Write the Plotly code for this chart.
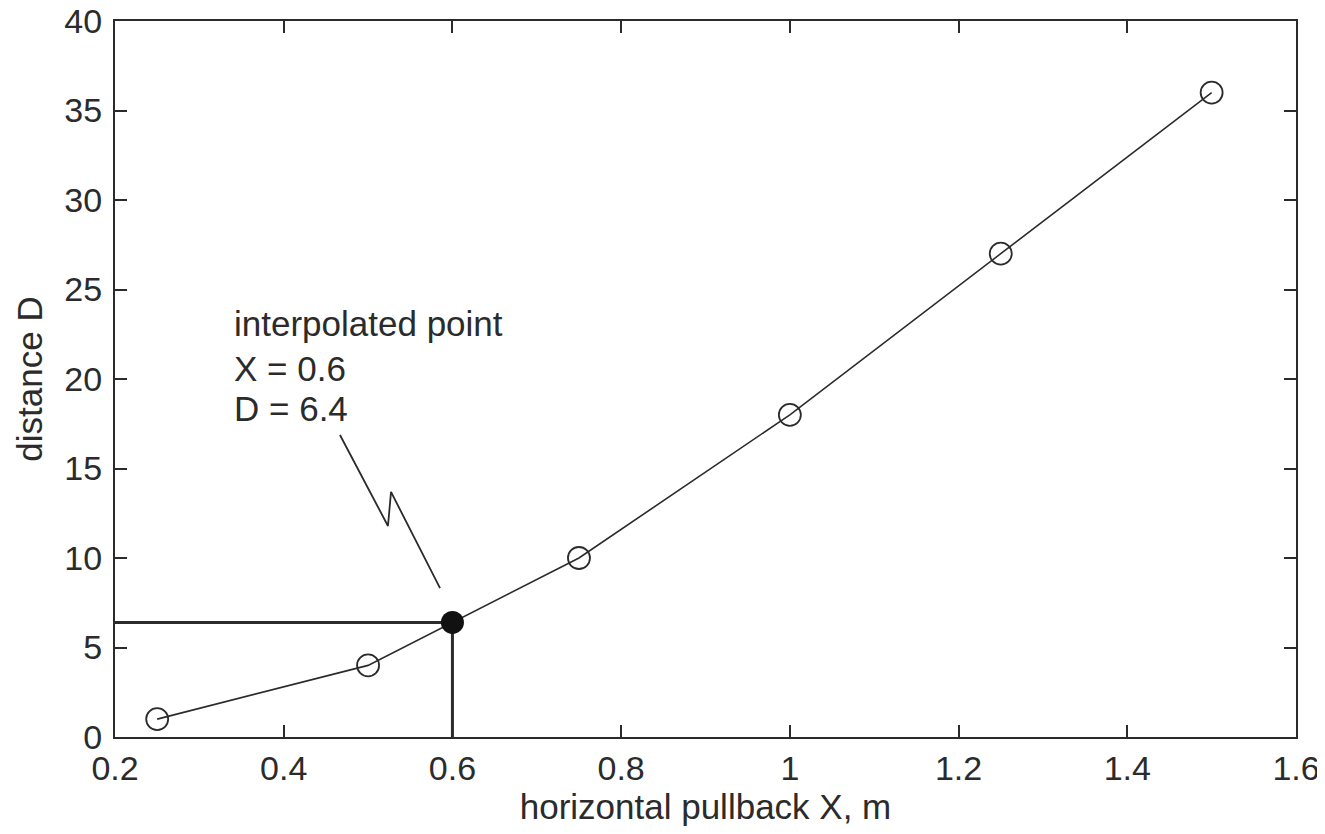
import plotly.graph_objects as go

# Data
pullback_x = [0.25, 0.5, 0.75, 1.0, 1.25, 1.5]
distance_d = [1, 4, 10, 18, 27, 36]

interp_x = 0.6
interp_d = 6.4

# Zig-zag pointer line (data coordinates)
pointer_x = [0.4667, 0.5236, 0.5272, 0.5853]
pointer_y = [16.87, 11.79, 13.69, 8.32]

label_lines = ["interpolated point", "X = 0.6", "D = 6.4"]
label_y = [23.1, 20.6, 18.35]
label_x = 0.3387

x_ticks = [0.2, 0.4, 0.6, 0.8, 1.0, 1.2, 1.4, 1.6]
x_ticktext = ["0.2", "0.4", "0.6", "0.8", "1", "1.2", "1.4", "1.6"]
y_ticks = [0, 5, 10, 15, 20, 25, 30, 35, 40]

INK = "#2b2b2b"
FONT = "Liberation Sans, Arial, Helvetica, sans-serif"

fig = go.Figure()

# reference lines to the interpolated point
fig.add_trace(go.Scatter(
    x=[0.2, interp_x, interp_x], y=[interp_d, interp_d, 0],
    mode="lines", line=dict(color=INK, width=3), hoverinfo="skip", showlegend=False))

# main curve
fig.add_trace(go.Scatter(
    x=pullback_x, y=distance_d, mode="lines+markers",
    line=dict(color=INK, width=1.6),
    marker=dict(symbol="circle-open", size=22, color=INK, line=dict(width=1.8)),
    showlegend=False))

# pointer
fig.add_trace(go.Scatter(
    x=pointer_x, y=pointer_y, mode="lines",
    line=dict(color=INK, width=1.8), hoverinfo="skip", showlegend=False))

# interpolated point
fig.add_trace(go.Scatter(
    x=[interp_x], y=[interp_d], mode="markers",
    marker=dict(symbol="circle", size=23, color="#111111"),
    showlegend=False))

for txt, yy in zip(label_lines, label_y):
    fig.add_annotation(x=label_x, y=yy, xref="x", yref="y", text=txt,
                       showarrow=False, xanchor="left", yanchor="middle",
                       font=dict(family=FONT, size=35, color=INK))

axis_common = dict(
    showline=True, linecolor=INK, linewidth=2, mirror="ticks",
    ticks="inside", ticklen=12, tickwidth=1.5, tickcolor=INK,
    showgrid=False, zeroline=False, automargin=False,
    ticklabeloverflow="allow",
    tickfont=dict(family=FONT, size=34, color=INK),
)

fig.update_xaxes(range=[0.2, 1.6], tickvals=x_ticks, ticktext=x_ticktext,
                 title=dict(text="horizontal pullback X, m",
                            font=dict(family=FONT, size=35, color=INK), standoff=7),
                 **axis_common)
fig.update_yaxes(range=[0, 40], tickvals=y_ticks, ticklabelstandoff=4,
                 title=dict(text="distance D",
                            font=dict(family=FONT, size=35, color=INK), standoff=11),
                 **axis_common)

fig.update_layout(
    width=1325, height=834,
    margin=dict(l=107, r=37, t=13, b=105, autoexpand=False),
    paper_bgcolor="white", plot_bgcolor="white",
    font=dict(family=FONT, color=INK),
)

fig.write_html("out.html")
